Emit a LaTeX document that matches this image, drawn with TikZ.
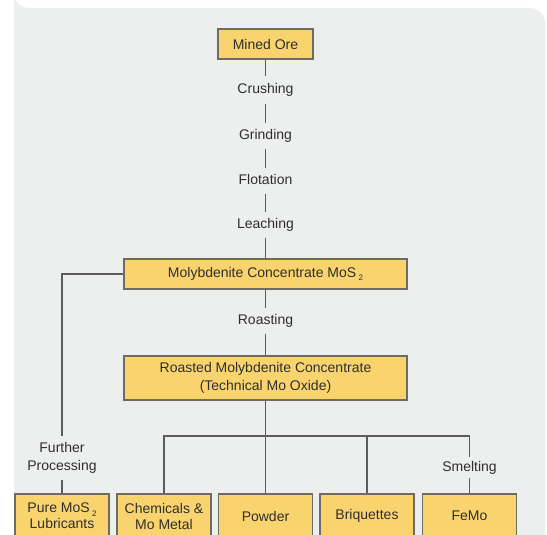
\documentclass[tikz,border=0pt]{standalone}
\usepackage{fontspec}
\setmainfont{Liberation Sans}
\definecolor{panel}{HTML}{EDEEEE}
\definecolor{boxfill}{HTML}{F9D46E}
\definecolor{boxline}{HTML}{6E6C62}
\definecolor{conn}{HTML}{5C5C5C}
\definecolor{txt}{HTML}{2E2E2E}
\newcommand{\mysub}[1]{\raisebox{-3.5pt}{\fontsize{8}{8}\selectfont #1}}
\tikzset{
  stagebox/.style={draw=boxline, line width=1.1pt, fill=boxfill, text=txt,
    minimum height=30pt, inner sep=0pt, align=center,
    font=\fontsize{14}{18}\selectfont},
  prodbox/.style={stagebox, minimum width=94pt, minimum height=44pt,
    font=\fontsize{14}{16}\selectfont},
  steplbl/.style={text=txt, inner xsep=2pt, inner ysep=6pt, align=center,
    text height=10pt, text depth=3pt, font=\fontsize{14}{18}\selectfont},
  steplbltwo/.style={text=txt, inner sep=0pt, align=center,
    font=\fontsize{14}{18}\selectfont},
  conline/.style={draw=conn, line width=1.3pt}
}
\begin{document}
\begin{tikzpicture}[x=1pt,y=-1pt]
\useasboundingbox (0,0) rectangle (547,535);
\clip (0,0) rectangle (547,535);
\fill[panel, rounded corners=15pt] (14,8) -| (545,560) -| (14,8) -- cycle;
\fill[panel] (14,8) rectangle (520,560);

% boxes
\node[stagebox, minimum width=95pt] (ore) at (265.5,44) {Mined Ore};
\node[stagebox, minimum width=283pt] (moly) at (265.5,274) {Molybdenite Concentrate MoS\,\mysub{2}};
\node[stagebox, minimum width=283pt, minimum height=44pt] (roast) at (265.5,378)
  {Roasted Molybdenite Concentrate\\(Technical Mo Oxide)};
\node[prodbox] (pure) at (62,516) {Pure MoS\,\mysub{2}\\Lubricants};
\node[prodbox] (chem) at (164,516) {Chemicals \&\\Mo Metal};
\node[prodbox] (powder) at (265.5,516) {Powder};
\node[prodbox] (briq) at (367,516) {Briquettes};
\node[prodbox] (femo) at (469.5,516) {FeMo};

% step labels
\node[steplbl, inner ysep=7.5pt] (crush) at (265.5,90) {Crushing};
\node[steplbl] (grind) at (265.5,136) {Grinding};
\node[steplbl] (flot) at (265.5,181) {Flotation};
\node[steplbl] (leach) at (265.5,225) {Leaching};
\node[steplbl] (roastl) at (265.5,321) {Roasting};
\node[steplbltwo, minimum height=44pt] (further) at (62,458) {Further\\Processing};
\node[steplbl, inner ysep=4pt] (smelt) at (469.5,467.5) {Smelting};

\coordinate (bus) at (265.5,436);

% connectors
\draw[conline] (ore) -- (crush);
\draw[conline] (crush) -- (grind);
\draw[conline] (grind) -- (flot);
\draw[conline] (flot) -- (leach);
\draw[conline] (leach) -- (moly);
\draw[conline] (moly) -- (roastl);
\draw[conline] (roastl) -- (roast);
\draw[conline] (moly.west) -| (further.north);
\draw[conline] (further) -- (pure);
\draw[conline] (roast.south) -- (powder.north);
\draw[conline] (chem.north) |- (bus) -| (smelt.north);
\draw[conline] (briq.north) -- (briq.north |- bus);
\draw[conline] (smelt) -- (femo);
\end{tikzpicture}
\end{document}
